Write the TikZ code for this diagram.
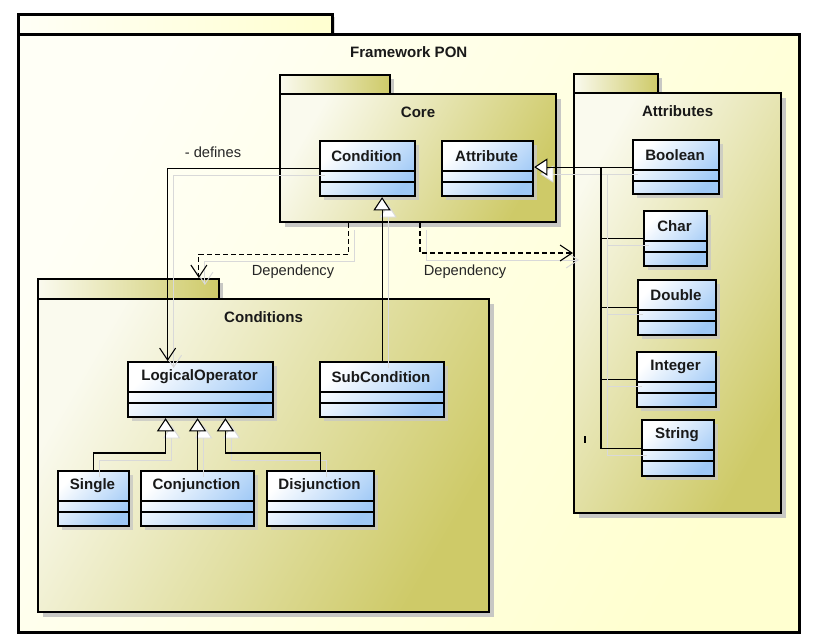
\documentclass[tikz,border=0pt]{standalone}
\usepackage{fontspec}
\setmainfont{Liberation Sans}
\usetikzlibrary{arrows.meta,calc}
\definecolor{framel}{RGB}{255,255,246}
\definecolor{framer}{RGB}{255,255,208}
\definecolor{pkglight}{RGB}{250,250,238}
\definecolor{pkgdark}{RGB}{206,202,104}
\definecolor{classdark}{RGB}{158,200,246}
\definecolor{shadowc}{RGB}{200,200,196}
\newcommand\umlclass[6]{%
  \fill[shadowc,opacity=0.8] (#2+5,#3+5) rectangle (#4+5,#5+5);
  \node[classbox, minimum width={(#4-#2)*0.75pt}, minimum height={(#5-#3)*0.75pt}, anchor=north west] (#1) at (#2,#3) {};
  \draw[comp] (#2,#3+31) -- (#4,#3+31) (#2,#3+42) -- (#4,#3+42);
  \node[classname] (#1name) at ({(#2+#4)/2},#3+16) {#6};
}
\newcommand\umlpkg[8]{%
  \fill[shadowc] (#2+6,#5+6) rectangle (#6+6,#7+6);
  \fill[shadowc] (#4,#3+5) rectangle (#4+5,#5);
  \node[pkgtab, minimum width={(#4-#2)*0.75pt}, minimum height={(#5-#3)*0.75pt}, anchor=north west] (#1tab) at (#2,#3) {};
  \node[pkgbody, minimum width={(#6-#2)*0.75pt}, minimum height={(#7-#5)*0.75pt}, anchor=north west] (#1) at (#2,#5) {};
  \node[classname] (#1title) at ($(#1.north)+(0,19)$) {#8};
}
\begin{document}
\begin{tikzpicture}[x=0.75pt,y=-0.75pt,
  classbox/.style={draw=black, line width=1.6pt, inner sep=0pt, top color=white, bottom color=classdark, shading angle=45},
  comp/.style={line width=1.1pt},
  classname/.style={font=\fontsize{11.3}{13}\selectfont\bfseries, text=black!90, inner sep=0pt},
  lbl/.style={font=\fontsize{11}{13}\selectfont, text=black!85, inner sep=0pt},
  pkgtab/.style={draw=black, line width=1.6pt, inner sep=0pt, left color=pkglight, right color=pkgdark},
  pkgbody/.style={draw=black, line width=1.6pt, inner sep=0pt, top color=pkglight, bottom color=pkgdark, shading angle=60},
  conn/.style={line width=0.8pt, preaction={draw=black!15, line width=0.7pt, transform canvas={shift={(6,7)}}}},
  inherit/.style={conn, -{Triangle[length=10pt,width=13pt,fill=white]}},
  inh/.style={conn},
  assoc/.style={conn, -{Straight Barb[length=9pt,width=12pt]}},
  dep/.style={conn, dash pattern=on 3.5pt off 2.5pt, -{Straight Barb[length=9pt,width=12pt]}}
]
\useasboundingbox (0,0) rectangle (817,643);
\fill[white] (0,0) rectangle (817,643);

% outer frame
\fill[shadowc!70] (331,17) rectangle (335,33);
\fill[shadowc!50] (20,36) rectangle (801,634);
\node[draw=black, line width=1.9pt, inner sep=0pt, left color=framel, right color=framer,
  minimum width={314*0.75pt}, minimum height={20*0.75pt}, anchor=north west] (frametab) at (17,13) {};
\node[draw=black, line width=1.9pt, inner sep=0pt, top color=framel, bottom color=framer, shading angle=60,
  minimum width={781*0.75pt}, minimum height={598*0.75pt}, anchor=north west] (frame) at (17,33) {};
\node[classname] (frametitle) at ($(frame.north)+(0,19)$) {Framework PON};

% packages
\umlpkg{core}{279}{74}{389}{93}{555}{221}{Core}
\umlpkg{attr}{573}{73}{657}{92}{780}{512}{Attributes}
\umlpkg{cond}{37}{278}{218}{298}{488}{611}{Conditions}

% classes
\umlclass{Condition}{319}{140}{414}{195}{Condition}
\umlclass{Attribute}{441}{140}{532}{195}{Attribute}
\umlclass{Boolean}{632}{139}{718}{193}{Boolean}
\umlclass{Char}{643}{210}{706}{265}{Char}
\umlclass{Double}{637}{279}{715}{334}{Double}
\umlclass{Integer}{636}{351}{715}{406}{Integer}
\umlclass{String}{641}{419}{713}{475}{String}
\umlclass{LO}{127}{361}{272}{416}{LogicalOperator}
\umlclass{SubCondition}{319}{361}{443}{416}{SubCondition}
\umlclass{Single}{57}{470}{128}{525}{Single}
\umlclass{Conjunction}{140}{470}{253}{525}{Conjunction}
\umlclass{Disjunction}{266}{470}{373}{525}{Disjunction}

% attribute inheritance tree
\coordinate (bus) at (601,167);
\draw[inherit] (Boolean.west) -- (Boolean.west -| Attribute.east);
\draw[inh] (Char.west) -| (bus);
\draw[inh] (Double.west) -| (bus);
\draw[inh] (Integer.west) -| (bus);
\draw[inh] (String.west) -| (bus);
\draw[line width=1.6pt] (585,436) -- (585,443);

% subcondition inheritance
\draw[inherit] (SubCondition.north) -- (SubCondition.north |- Condition.south);

% logical operator inheritance
\draw[inherit] (Single.north) -- ++(0,-17) -| ($(LO.south west)!0.262!(LO.south east)$);
\draw[inherit] (Conjunction.north) -- (Conjunction.north |- LO.south);
\draw[inherit] (Disjunction.north) -- ++(0,-17) -| ($(LO.south west)!0.669!(LO.south east)$);

% defines association
\draw[assoc] (Condition.west) -| ($(LO.north west)!0.276!(LO.north east)$);
\node[lbl] (deflbl) at (213,152) {- defines};

% dependencies
\draw[dep] ($(core.south west)!0.25!(core.south east)$) -- ++(0,31) -| ($(condtab.north west)!0.884!(condtab.north east)$);
\node[lbl] (dep1) at (293,272) {Dependency};
\draw[dep] ($(core.south west)!0.507!(core.south east)$) |- ($(attr.north west)+(0,161)$);
\node[lbl] (dep2) at (465,272) {Dependency};
\end{tikzpicture}
\end{document}
